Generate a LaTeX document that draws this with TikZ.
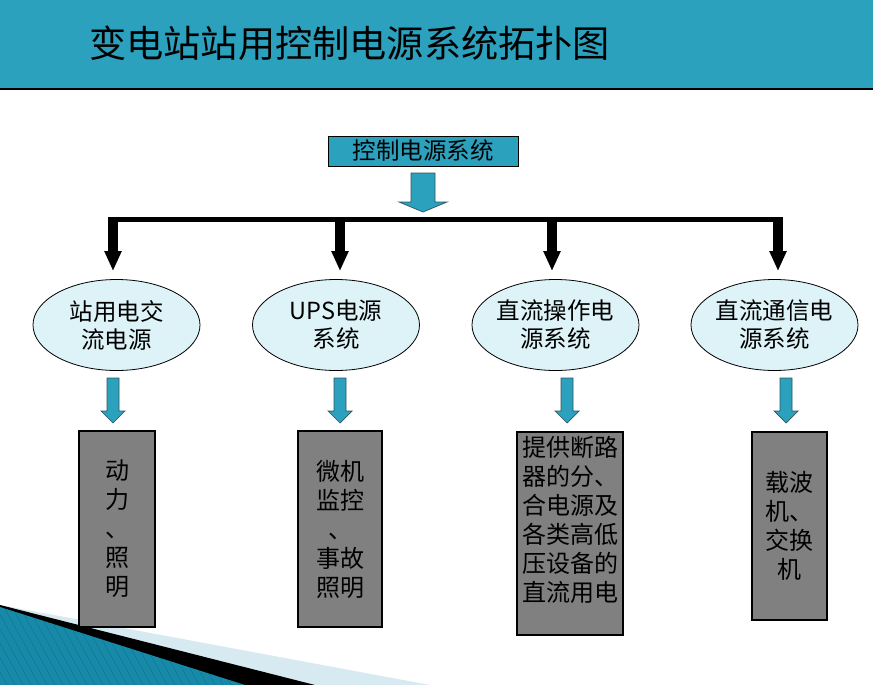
\documentclass[tikz,border=0pt]{standalone}
\usepackage{fontspec}
\setmainfont{Noto Sans CJK SC}
\usetikzlibrary{shapes.geometric,arrows.meta}
\definecolor{tealmain}{RGB}{43,161,190}
\definecolor{tealdark}{RGB}{22,138,168}
\definecolor{teallight}{RGB}{95,192,218}
\definecolor{ellfill}{RGB}{221,243,248}
\definecolor{wedgelight}{RGB}{216,234,241}
\definecolor{boxgray}{RGB}{128,128,128}
\definecolor{arrline}{RGB}{45,85,95}
\newcommand\myBlockArrow[6]{%
  \draw[tealarrow] ({#1-#4},#2) -- ({#1+#4},#2) -- ({#1+#4},{#3-#6}) -- ({#1+#5},{#3-#6})
    -- (#1,#3) -- ({#1-#5},{#3-#6}) -- ({#1-#4},{#3-#6}) -- cycle;}
\tikzset{
  tealarrow/.style={fill=tealmain, draw=arrline, line width=0.7pt, line join=miter},
  ell/.style={ellipse, draw=black, fill=ellfill, line width=0.8pt, minimum width=167pt,
    minimum height=91pt, inner sep=0pt, align=center, font=\fontsize{23.5}{28}\selectfont},
  gbox/.style={draw=black, fill=boxgray, line width=1.2pt, inner sep=0pt, align=center,
    font=\fontsize{24}{29}\selectfont},
  busarrow/.style={line width=10pt, draw=black, -{Triangle[length=20pt,width=16pt]}},
  stripe/.style={draw=black, opacity=0.12, line width=0.6pt}
}
\begin{document}
\begin{tikzpicture}[x=1pt,y=-1pt]
\useasboundingbox (0,0) rectangle (873,685);
\fill[white] (0,0) rectangle (873,685);
% header
\fill[tealmain] (0,0) rectangle (873,89);
\draw[line width=1.5pt] (0,89) -- (873,89);
\node[anchor=west, inner sep=0pt, font=\fontsize{37.2}{42}\selectfont] (title) at (89,43) {变电站站用控制电源系统拓扑图};
% bottom-left decoration
\fill[wedgelight] (0,605) -- (430,685) -- (0,685) -- cycle;
\fill[black] (0,605) -- (315,685) -- (0,685) -- cycle;
\begin{scope}
  \clip (0,607) -- (245,685) -- (0,685) -- cycle;
  \shade[left color=tealdark, middle color=teallight, right color=tealdark] (0,600) rectangle (250,690);
  \foreach \i in {-120,-112,...,260} { \draw[stripe] (\i,600) -- (\i+50,690); }
\end{scope}
% top box
\node[draw=black, fill=tealmain, line width=1pt, minimum width=190pt, minimum height=30pt,
  inner sep=0pt, font=\fontsize{23.5}{28}\selectfont] (top) at (423,151) {控制电源系统};
\myBlockArrow{423}{173}{212}{12}{24}{10}
% bus
\coordinate (busL) at (108,219.5);
\coordinate (busR) at (783,219.5);
\draw[line width=5pt] (busL) -- (busR);
% ellipses
\node[ell] (e1) at (116.5,325) {站用电交\\流电源};
\node[ell] (e2) at (336,325) {UPS电源\\系统};
\node[ell] (e3) at (555.5,325) {直流操作电\\源系统};
\node[ell] (e4) at (774.5,325) {直流通信电\\源系统};
% bus arrows
\coordinate (b1) at (113,217);
\coordinate (b2) at (340,217);
\coordinate (b3) at (552,217);
\coordinate (b4) at (778,217);
\foreach \k in {1,2,3,4} { \draw[busarrow, shorten >=8pt] (b\k) -- (b\k |- e\k.north); }
% teal arrows to boxes
\myBlockArrow{113}{378}{423}{6}{12}{12}
\myBlockArrow{340}{378}{423}{6}{12}{12}
\myBlockArrow{567}{378}{423}{6}{12}{12}
\myBlockArrow{786}{378}{423}{6}{12}{12}
% gray boxes
\node[gbox, minimum width=76pt, minimum height=196pt] (g1) at (117,529) {动\\力\\、\\照\\明};
\node[gbox, minimum width=84pt, minimum height=196pt] (g2) at (340,529) {微机\\监控\\、\\事故\\照明};
\node[gbox, minimum width=106pt, minimum height=203pt] (g3) at (570,533.5) {};
\node[anchor=north, inner sep=0pt, align=center, font=\fontsize{24}{29}\selectfont] (g3t)
  at ([yshift=-5pt]g3.north) {提供断路\\器的分、\\合电源及\\各类高低\\压设备的\\直流用电};
\node[gbox, minimum width=75pt, minimum height=188pt] (g4) at (789.5,526) {载波\\机、\\交换\\机};
\end{tikzpicture}
\end{document}
